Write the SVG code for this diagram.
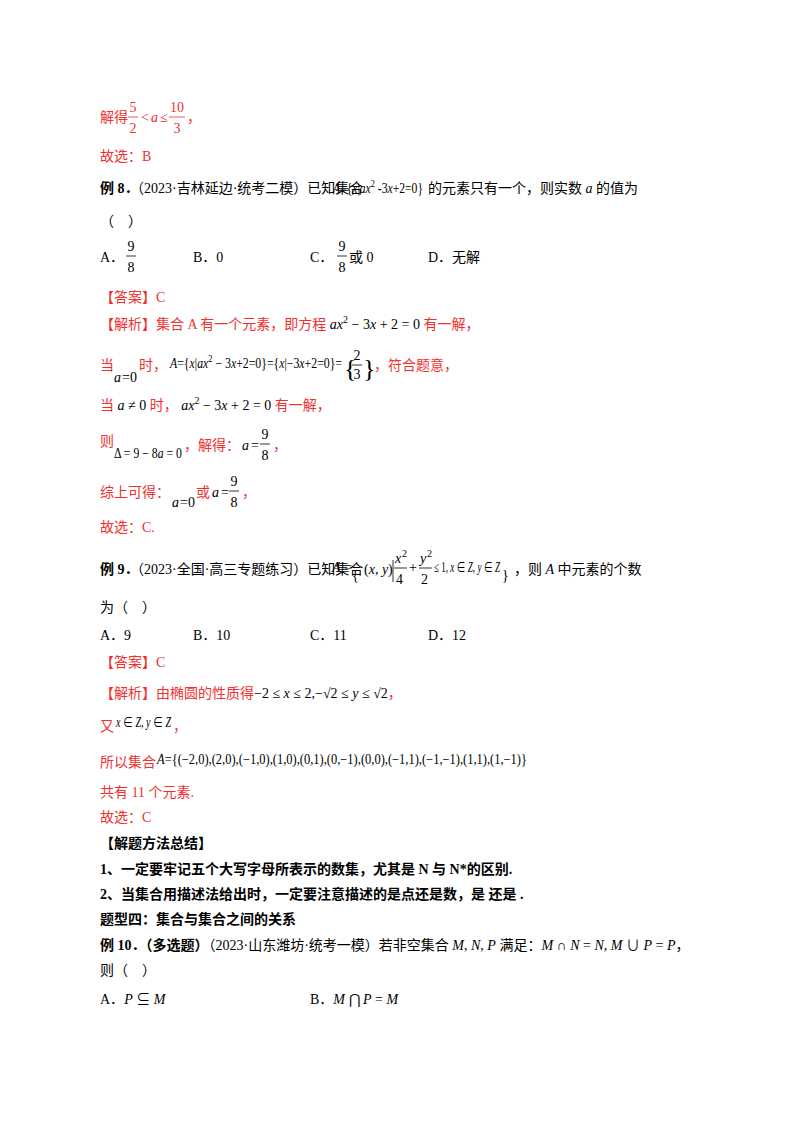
<svg xmlns="http://www.w3.org/2000/svg" width="800" height="1132" viewBox="0 0 800 1132">
<style>
text{font-family:"Liberation Serif","Noto Sans CJK SC",serif;font-size:14px;fill:#000}
.r{fill:#f03030}
.b{font-weight:bold}
.i{font-style:italic}
.s{font-size:10px}
.m{text-anchor:middle}
.br{font-size:26px;font-weight:100}
line{stroke-width:0.8}
.lr{stroke:#f03030}.lk{stroke:#000}
</style>
<rect width="800" height="1132" fill="#fff"/>
<g id="top">
<text class="r" x="100" y="122">解得</text>
<text class="r m" x="133" y="112">5</text><line class="lr" x1="128" y1="117" x2="138" y2="117"/><text class="r m" x="133" y="133">2</text>
<text class="r" x="141" y="122">&lt;</text><text class="r i" x="151" y="122">a</text><text class="r" x="160" y="122">≤</text>
<text class="r m" x="177" y="112">10</text><line class="lr" x1="169" y1="117" x2="185" y2="117"/><text class="r m" x="177" y="133">3</text>
<text class="r" x="187" y="122">，</text>
<text class="r" x="100" y="161">故选：B</text>
</g>
<g id="ex8">
<text class="b" x="100" y="193">例 8．</text>
<text x="130" y="193">（2023·吉林延边·统考二模）已知集合</text>
<text x="333" y="193" textLength="90" lengthAdjust="spacingAndGlyphs" font-size="13"><tspan class="i">A</tspan>={<tspan class="i">x</tspan>|<tspan class="i">ax</tspan><tspan class="s" dy="-6">2</tspan><tspan dy="6"> -3</tspan><tspan class="i">x</tspan>+2=0}</text>
<text x="428" y="193">的元素只有一个，则实数 <tspan class="i">a</tspan> 的值为</text>
<text x="100" y="226">（　）</text>
<text x="100" y="262">A．</text>
<text class="m" x="131" y="251">9</text><line class="lk" x1="126" y1="256" x2="136" y2="256"/><text class="m" x="131" y="272">8</text>
<text x="193" y="262">B．0</text>
<text x="310" y="262">C．</text>
<text class="m" x="342" y="251">9</text><line class="lk" x1="337" y1="256" x2="347" y2="256"/><text class="m" x="342" y="272">8</text>
<text x="349" y="262">或 0</text>
<text x="428" y="262">D．无解</text>
<text class="r" x="100" y="302">【答案】C</text>
<text class="r" x="100" y="329">【解析】集合 A 有一个元素，即方程 <tspan fill="#000"><tspan class="i">ax</tspan><tspan class="s" dy="-6">2</tspan><tspan dy="6"> − 3</tspan><tspan class="i">x</tspan> + 2 = 0</tspan> 有一解，</text>
<text class="r" x="100" y="370">当</text>
<text class="i" x="114" y="382">a</text><text x="122" y="382">=0</text>
<text class="r" x="139" y="370">时，</text>
<text x="170" y="368" font-size="13" textLength="172" lengthAdjust="spacingAndGlyphs"><tspan class="i">A</tspan>={<tspan class="i">x</tspan>|<tspan class="i">ax</tspan><tspan class="s" dy="-6">2</tspan><tspan dy="6"> − 3</tspan><tspan class="i">x</tspan>+2=0}={<tspan class="i">x</tspan>|−3<tspan class="i">x</tspan>+2=0}=</text>
<text class="br" x="344" y="377">{</text>
<text class="m" x="357" y="360">2</text><line class="lk" x1="352" y1="365" x2="362" y2="365"/><text class="m" x="357" y="379">3</text>
<text class="br" x="363" y="377">}</text>
<text class="r" x="374" y="370">，符合题意，</text>
<text class="r" x="100" y="410">当 <tspan fill="#000"><tspan class="i">a</tspan> ≠ 0</tspan> 时，<tspan fill="#000"> <tspan class="i">ax</tspan><tspan class="s" dy="-6">2</tspan><tspan dy="6"> − 3</tspan><tspan class="i">x</tspan> + 2 = 0</tspan> 有一解，</text>
<text class="r" x="100" y="446">则</text>
<text x="114" y="458" textLength="68" lengthAdjust="spacingAndGlyphs">Δ = 9 − 8<tspan class="i">a</tspan> = 0</text>
<text class="r" x="184" y="450">，解得：</text>
<text class="i" x="242" y="450">a</text><text x="251" y="450">=</text>
<text class="m" x="265" y="439">9</text><line class="lk" x1="260" y1="444" x2="270" y2="444"/><text class="m" x="265" y="460">8</text>
<text class="r" x="273" y="450">，</text>
<text class="r" x="100" y="497">综上可得：</text>
<text class="i" x="172" y="507">a</text><text x="180" y="507">=0</text>
<text class="r" x="196" y="497">或</text>
<text class="i" x="212" y="497">a</text><text x="221" y="497">=</text>
<text class="m" x="234" y="486">9</text><line class="lk" x1="229" y1="491" x2="239" y2="491"/><text class="m" x="234" y="507">8</text>
<text class="r" x="242" y="497">，</text>
<text class="r" x="100" y="532">故选：C.</text>
</g>
<g id="ex9">
<text class="b" x="100" y="574">例 9．</text>
<text x="130" y="574">（2023·全国·高三专题练习）已知集合</text>
<text x="332" y="572"><tspan class="i">A</tspan> =</text>
<text x="352" y="580" font-size="30" font-weight="100">{</text>
<text x="364" y="574">(<tspan class="i">x</tspan>, <tspan class="i">y</tspan>)</text>
<line class="lk" x1="393" y1="560" x2="393" y2="582"/>
<text class="i" x="395" y="563">x</text><text class="s" x="402" y="557">2</text><line class="lk" x1="394" y1="568" x2="407" y2="568"/><text x="396" y="584">4</text>
<text x="409" y="572">+</text>
<text class="i" x="420" y="563">y</text><text class="s" x="427" y="557">2</text><line class="lk" x1="419" y1="568" x2="432" y2="568"/><text x="421" y="584">2</text>
<text x="434" y="572" textLength="66" lengthAdjust="spacingAndGlyphs">≤ 1, <tspan class="i">x</tspan> ∈ <tspan class="i">Z</tspan>, <tspan class="i">y</tspan> ∈ <tspan class="i">Z</tspan></text>
<text x="502" y="580" font-size="30" font-weight="100">}</text>
<text x="514" y="574">，则 <tspan class="i">A</tspan> 中元素的个数</text>
<text x="100" y="612">为（　）</text>
<text x="100" y="640">A．9</text>
<text x="193" y="640">B．10</text>
<text x="310" y="640">C．11</text>
<text x="428" y="640">D．12</text>
<text class="r" x="100" y="667">【答案】C</text>
<text class="r" x="100" y="698">【解析】由椭圆的性质得<tspan fill="#000">−2 ≤ <tspan class="i">x</tspan> ≤ 2,−√2 ≤ <tspan class="i">y</tspan> ≤ √2</tspan>，</text>
<text class="r" x="100" y="731">又</text>
<text x="116" y="727" textLength="55" lengthAdjust="spacingAndGlyphs"><tspan class="i">x</tspan> ∈ <tspan class="i">Z</tspan>, <tspan class="i">y</tspan> ∈ <tspan class="i">Z</tspan></text>
<text class="r" x="173" y="731">，</text>
<text class="r" x="100" y="767">所以集合</text>
<text x="157" y="764" font-size="13" textLength="370" lengthAdjust="spacingAndGlyphs"><tspan class="i">A</tspan>={(−2,0),(2,0),(−1,0),(1,0),(0,1),(0,−1),(0,0),(−1,1),(−1,−1),(1,1),(1,−1)}</text>
<text class="r" x="100" y="797">共有 11 个元素.</text>
<text class="r" x="100" y="822">故选：C</text>
</g>
<g id="summary">
<text class="b" x="100" y="848">【解题方法总结】</text>
<text class="b" x="100" y="874">1、一定要牢记五个大写字母所表示的数集，尤其是 N 与 N*的区别.</text>
<text class="b" x="100" y="899">2、当集合用描述法给出时，一定要注意描述的是点还是数，是  还是  .</text>
<text class="b" x="100" y="924">题型四：集合与集合之间的关系</text>
</g>
<g id="ex10">
<text x="100" y="950"><tspan class="b">例 10．（多选题）</tspan>（2023·山东潍坊·统考一模）若非空集合 <tspan class="i">M</tspan>, <tspan class="i">N</tspan>, <tspan class="i">P</tspan> 满足：<tspan class="i">M</tspan> ∩ <tspan class="i">N</tspan> = <tspan class="i">N</tspan>, <tspan class="i">M</tspan> ∪ <tspan class="i">P</tspan> = <tspan class="i">P</tspan>，</text>
<text x="100" y="975">则（　）</text>
<text x="100" y="1004">A．<tspan class="i">P</tspan> ⊆ <tspan class="i">M</tspan></text>
<text x="310" y="1004">B．<tspan class="i">M</tspan> ⋂ <tspan class="i">P</tspan> = <tspan class="i">M</tspan></text>
</g>
</svg>
